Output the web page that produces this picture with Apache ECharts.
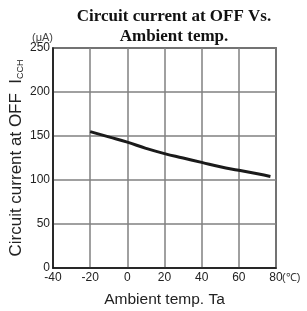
<!DOCTYPE html>
<html>
<head>
<meta charset="utf-8">
<script src="https://cdn.jsdelivr.net/npm/echarts@6/dist/echarts.min.js"></script>
<style>
  html, body { margin: 0; padding: 0; background: #fff; }
  #chart { width: 307px; height: 311px; }
</style>
</head>
<body>
<div id="chart"></div>
<script>
// values
var temps = [-20, -10, 0, 10, 20, 30, 40, 50, 60, 70, 77];
var current = [155, 149, 143, 136, 130, 125, 120, 115, 111, 107, 104];
var xTicks = [-40, -20, 0, 20, 40, 60, 80];
var yTicks = [0, 50, 100, 150, 200, 250];

var myChart = echarts.init(document.getElementById('chart'));

var labelStyle = {
  color: '#222',
  fontSize: 12,
  fontFamily: 'Liberation Sans, Arial, sans-serif'
};

var option = {
  animation: false,
  title: {
    text: 'Circuit current at OFF Vs.\nAmbient temp.',
    left: 169,
    top: 2,
    textAlign: 'center',
    textStyle: {
      color: '#111',
      fontSize: 17,
      fontWeight: 'bold',
      lineHeight: 20,
      fontFamily: 'Liberation Serif, serif'
    }
  },
  grid: {
    left: 53,
    right: 31,
    top: 48,
    bottom: 43,
    outerBoundsMode: 'none',
    containLabel: false,
    show: true,
    borderColor: '#111',
    borderWidth: 1.5
  },
  xAxis: [
    {
      type: 'value',
      min: xTicks[0],
      max: xTicks[xTicks.length - 1],
      interval: 20,
      name: 'Ambient temp. Ta',
      nameLocation: 'middle',
      nameGap: 24,
      nameTextStyle: {
        color: '#222',
        fontSize: 15.5,
        fontFamily: 'Liberation Sans, Arial, sans-serif'
      },
      axisLine: { onZero: false, lineStyle: { color: '#111', width: 1.5 } },
      axisTick: { show: false },
      axisLabel: Object.assign({ margin: 4 }, labelStyle),
      splitLine: { lineStyle: { color: '#808080', width: 1.5 } }
    },
    {
      type: 'value',
      position: 'bottom',
      min: xTicks[0],
      max: xTicks[xTicks.length - 1],
      name: '(℃)',
      nameLocation: 'end',
      nameGap: 6,
      nameTextStyle: {
        color: '#333',
        fontSize: 11,
        align: 'left',
        verticalAlign: 'top',
        padding: [4, 0, 0, 0],
        fontFamily: 'Liberation Sans, Arial, sans-serif'
      },
      axisLine: { show: false, onZero: false },
      axisTick: { show: false },
      axisLabel: { show: false },
      splitLine: { show: false }
    }
  ],
  yAxis: [
    {
      type: 'value',
      min: yTicks[0],
      max: yTicks[yTicks.length - 1],
      interval: 50,
      name: '{a|Circuit current at OFF  I}{b|CCH}',
      nameLocation: 'middle',
      nameGap: 28,
      nameMoveOverlap: false,
      nameTextStyle: {
        rich: {
          a: {
            color: '#222',
            fontSize: 17,
            fontFamily: 'Liberation Sans, Arial, sans-serif'
          },
          b: {
            color: '#222',
            fontSize: 9,
            verticalAlign: 'bottom',
            fontFamily: 'Liberation Sans, Arial, sans-serif'
          }
        }
      },
      axisLine: { show: true, onZero: false, lineStyle: { color: '#111', width: 1.5 } },
      axisTick: { show: false },
      axisLabel: Object.assign({ margin: 3 }, labelStyle),
      splitLine: { lineStyle: { color: '#808080', width: 1.5 } }
    },
    {
      type: 'value',
      position: 'left',
      min: yTicks[0],
      max: yTicks[yTicks.length - 1],
      name: '(μA)',
      nameLocation: 'end',
      nameGap: 5,
      nameTextStyle: {
        color: '#444',
        fontSize: 11,
        align: 'right',
        fontFamily: 'Liberation Sans, Arial, sans-serif'
      },
      axisLine: { show: false, onZero: false },
      axisTick: { show: false },
      axisLabel: { show: false },
      splitLine: { show: false }
    }
  ],
  series: [
    {
      type: 'line',
      smooth: true,
      showSymbol: false,
      data: temps.map(function (t, i) { return [t, current[i]]; }),
      lineStyle: { color: '#1a1a1a', width: 3 }
    }
  ]
};

myChart.setOption(option);
</script>
</body>
</html>
